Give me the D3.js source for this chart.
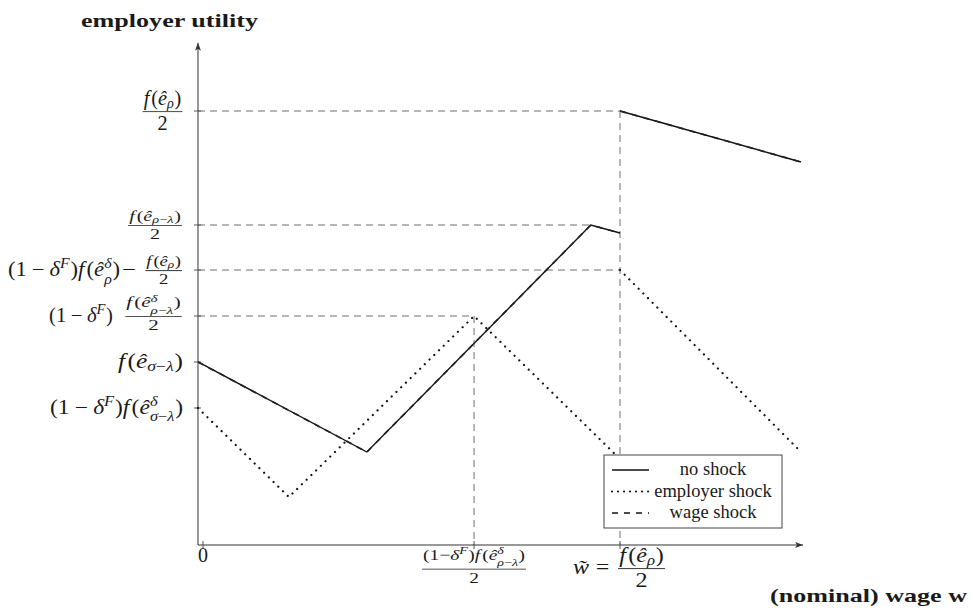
<!DOCTYPE html>
<html>
<head>
<meta charset="utf-8">
<script src="https://cdn.jsdelivr.net/npm/d3@7"></script>
<style>
  html, body { margin: 0; padding: 0; background: #fff; }
  svg { display: block; }
</style>
</head>
<body>
<svg id="chart" width="972" height="610"></svg>
<script>
// ---- data (wage in units of w~, utility in arbitrary units) ----
const wageTicks = [0, 0.65, 1.0];
const utilityLevels = [10, 7.373, 6.336, 5.276, 4.217, 3.157];

const noShockLow  = [[-0.012, 4.217], [0.393, 2.143], [0.930, 7.373], [1.0, 7.189]];
const noShockHigh = [[1.0, 10], [1.434, 8.825]];
const employerLow  = [[-0.012, 3.157], [0.206, 1.106], [0.650, 5.276], [1.0, 1.982]];
const employerHigh = [[1.0, 6.336], [1.427, 2.212]];
const wageLow  = [[-0.012, 4.217], [0.393, 2.143], [0.930, 7.373], [1.0, 7.189]];
const wageHigh = [[1.0, 10], [1.434, 8.825]];

// dashed guides: [wage, utility] corner points
const guidePoints = [[1.0, 10], [0.930, 7.373], [1.0, 6.336], [0.650, 5.276]];

const seriesNames = ["no shock", "employer shock", "wage shock"];
const yTitle = "employer utility";
const xTitle = "(nominal) wage w";

// ---- small typesetting helpers for the math labels ----
const I = t => ({ t, it: true });
const R = t => ({ t, it: false });
const G = k => ({ gap: k });            // horizontal space in em
const S = (sub, sup) => ({ sub, sup });
const FR = (num, den, k) => ({ num, den, k });

const fRho = [I("f"), G(0.1), R("("), I("ê"), S([I("ρ")]), R(")")];
const fRhoLam = [I("f"), G(0.1), R("("), I("ê"), S([I("ρ"), R("−"), I("λ")]), R(")")];
const fRhoDelta = [I("f"), G(0.1), R("("), I("ê"), S([I("ρ")], [I("δ")]), R(")")];
const fRhoLamDelta = [I("f"), G(0.1), R("("), I("ê"), S([I("ρ"), R("−"), I("λ")], [I("δ")]), R(")")];
const fSigLam = [I("f"), G(0.1), R("("), I("ê"), S([I("σ"), R("−"), I("λ")]), R(")")];
const fSigLamDelta = [I("f"), G(0.1), R("("), I("ê"), S([I("σ"), R("−"), I("λ")], [I("δ")]), R(")")];
const oneMinusDelta = [R("(1"), G(0.22), R("−"), G(0.22), I("δ"), S(null, [I("F")]), R(")")];
const oneMinusDeltaTight = [R("(1−"), I("δ"), S(null, [I("F")]), R(")")];

// each tick label is a list of pieces
const yTickLabels = [
  [[FR(fRho, [R("2")], 1)]],
  [[FR(fRhoLam, [R("2")], 0.75)]],
  [[...oneMinusDelta, ...fRhoDelta], [R("−"), G(0.3), FR(fRho, [R("2")], 0.75)]],
  [oneMinusDelta, [FR(fRhoLamDelta, [R("2")], 0.75)]],
  [fSigLam],
  [[...oneMinusDelta, ...fSigLamDelta]]
];
const xTickLabels = [
  [R("0")],
  [FR([...oneMinusDeltaTight, ...fRhoLamDelta], [R("2")], 0.75)],
  [I("w\u0303"), G(0.28), R("="), G(0.28), FR(fRho, [R("2")], 1)]
];

// ---- layout ----
const svg = d3.select("#chart");
const FONT = "'Liberation Serif', 'Times New Roman', serif";
const x = d3.scaleLinear().domain([0, 1]).range([203, 620]);
const y = d3.scaleLinear().domain([0, 10]).range([545, 111]);
const xAxisStart = -0.012, xAxisEnd = 1.439, yAxisEnd = 11.57;
const INK = "#1a1a1a";
const labelSize = 20;
// horizontal extent [left, right] of every piece of the y labels; glyphs are widened to fit
const yLabelBoxes = [
  [[141, 184]],
  [[126, 184]],
  [[8, 120], [122, 184]],
  [[49, 113], [123, 184]],
  [[118, 183]],
  [[50, 183]]
];
const xLabelWidths = [null, 108, 94];
const ASC = 0.891, DESC = 0.216;   // Liberation Serif ascent / descent per em

function shift(spans, dx, dy) {
  spans.forEach(sp => sp.attr("x", +sp.attr("x") + dx).attr("y", +sp.attr("y") + dy));
}
const spanBottom = sp => +sp.attr("y") + DESC * +sp.attr("font-size");
const spanTop = sp => +sp.attr("y") - ASC * +sp.attr("font-size");

// lays out nodes as tspans of one <text>; fraction bars go into `bars`
function typeset(txt, bars, nodes, x0, y0, size, lvl) {
  let cx = x0;
  const spans = [];
  nodes.forEach(n => {
    if (n.gap !== undefined) {
      cx += n.gap * size;
    } else if (n.t !== undefined) {
      const sp = txt.append("tspan").attr("x", cx).attr("y", y0)
        .attr("font-size", size).attr("font-style", n.it ? "italic" : "normal").text(n.t);
      cx += sp.node().getComputedTextLength();
      spans.push(sp);
    } else if (n.num) {
      const fs = size * n.k;
      const sl = n.k < 1 ? lvl + 1 : lvl;
      const N = typeset(txt, bars, n.num, 0, 0, fs, sl);
      const D = typeset(txt, bars, n.den, 0, 0, fs, sl);
      const pad = size * 0.08;
      const w = Math.max(N.w, D.w) + fs * 0.1;
      const bar = y0 - size * 0.27;
      const numBottom = d3.max(N.spans, spanBottom);
      const denTop = d3.min(D.spans, spanTop);
      shift(N.spans, cx + pad + (w - N.w) / 2, bar - Math.max(fs * 0.3, numBottom + 0.3));
      shift(D.spans, cx + pad + (w - D.w) / 2, bar + Math.max(fs * 0.76, -denTop + 0.3));
      spans.push(...N.spans, ...D.spans);
      bars.append("line").attr("x1", cx + pad).attr("x2", cx + pad + w)
        .attr("y1", bar).attr("y2", bar).attr("stroke", INK).attr("stroke-width", 0.8);
      cx += w + 2 * pad;
    } else {
      const ss = size * (lvl === 0 ? 0.7 : 0.72);
      const both = n.sup && n.sub;
      const supShift = size * (lvl === 0 ? 0.42 : 0.36);
      const subShift = both ? (ASC + DESC) * ss + 0.4 - supShift : size * 0.15;
      let w = 0;
      if (n.sup) {
        const P = typeset(txt, bars, n.sup, cx, y0 - supShift, ss, lvl + 1);
        spans.push(...P.spans); w = Math.max(w, P.w);
      }
      if (n.sub) {
        const B = typeset(txt, bars, n.sub, cx, y0 + subShift, ss, lvl + 1);
        spans.push(...B.spans); w = Math.max(w, B.w);
      }
      cx += w + size * 0.03;
    }
  });
  return { w: cx - x0, spans };
}

// draws one piece, stretched horizontally to `width` when given
function label(nodes, px, py, size, anchor, width) {
  const g = svg.append("g").attr("font-family", FONT).attr("fill", INK);
  const txt = g.append("text");
  const bars = g.append("g");
  const natural = typeset(txt, bars, nodes, 0, 0, size, 0).w;
  const sx = width ? width / natural : 1;
  const w = natural * sx;
  const dx = anchor === "end" ? -w : anchor === "middle" ? -w / 2 : 0;
  g.attr("transform", `translate(${px + dx},${py}) scale(${sx},1)`);
  return g;
}

// dashed guide lines
const guides = svg.append("g").attr("stroke", "#6e6e6e").attr("stroke-width", 1)
  .attr("stroke-dasharray", "7,5").attr("fill", "none");
guidePoints.forEach(([w, u]) => {
  guides.append("line").attr("x1", x(xAxisStart)).attr("x2", x(w))
    .attr("y1", y(u)).attr("y2", y(u));
});
guides.append("line").attr("x1", x(0.65)).attr("x2", x(0.65)).attr("y1", y(5.276)).attr("y2", y(0));
guides.append("line").attr("x1", x(1.0)).attr("x2", x(1.0)).attr("y1", y(10)).attr("y2", y(0));

// axes
const axisG = svg.append("g").attr("stroke", "#333").attr("stroke-width", 1).attr("fill", "none");
axisG.append("line").attr("x1", x(xAxisStart)).attr("x2", x(xAxisStart))
  .attr("y1", y(0)).attr("y2", y(yAxisEnd));
axisG.append("line").attr("x1", x(xAxisStart)).attr("x2", x(xAxisEnd))
  .attr("y1", y(0)).attr("y2", y(0));
// arrow heads
const ax0 = x(xAxisStart), ay = y(yAxisEnd), bx = x(xAxisEnd), by = y(0);
svg.append("path").attr("d", `M${ax0},${ay} L${ax0 - 3},${ay + 8} L${ax0},${ay + 6} L${ax0 + 3},${ay + 8} Z`).attr("fill", "#333");
svg.append("path").attr("d", `M${bx},${by} L${bx - 8},${by - 3} L${bx - 6},${by} L${bx - 8},${by + 3} Z`).attr("fill", "#333");

// ticks
const tickG = svg.append("g").attr("stroke", "#555").attr("stroke-width", 1);
utilityLevels.forEach(u => {
  tickG.append("line").attr("x1", ax0 - 4).attr("x2", ax0 + 3).attr("y1", y(u)).attr("y2", y(u));
});
wageTicks.forEach(w => {
  tickG.append("line").attr("x1", x(w)).attr("x2", x(w)).attr("y1", y(0) - 4).attr("y2", y(0) + 4);
});

// tick labels
utilityLevels.forEach((u, i) => {
  yTickLabels[i].forEach((piece, j) => {
    const [l, r] = yLabelBoxes[i][j];
    label(piece, r, y(u) + labelSize * 0.3, labelSize, "end", r - l);
  });
});
label(xTickLabels[0], x(wageTicks[0]), 562, labelSize, "middle", xLabelWidths[0]);
label(xTickLabels[1], x(wageTicks[1]), 574.5, labelSize, "middle", xLabelWidths[1]);
label(xTickLabels[2], x(wageTicks[2]), 574, labelSize, "middle", xLabelWidths[2]);

// curves
const line = d3.line().x(d => x(d[0])).y(d => y(d[1]));
const curves = svg.append("g").attr("fill", "none");
[noShockLow, noShockHigh].forEach(s => {
  curves.append("path").attr("d", line(s)).attr("stroke", "#111").attr("stroke-width", 1.4);
});
[employerLow, employerHigh].forEach(s => {
  curves.append("path").attr("d", line(s)).attr("stroke", "#111").attr("stroke-width", 2.2)
    .attr("stroke-linecap", "round").attr("stroke-dasharray", "0.01,6.6");
});
[wageLow, wageHigh].forEach(s => {
  curves.append("path").attr("d", line(s)).attr("stroke", "#222").attr("stroke-width", 1.7)
    .attr("stroke-dasharray", "6,6");
});

// legend
const leg = svg.append("g").attr("transform", "translate(604,455)");
leg.append("rect").attr("width", 178).attr("height", 73)
  .attr("fill", "#fff").attr("stroke", "#444").attr("stroke-width", 1);
const legendStyles = [
  { dash: null, w: 1.4, cap: "butt" },
  { dash: "0.01,6", w: 2.2, cap: "round" },
  { dash: "6,6", w: 1.7, cap: "butt" }
];
seriesNames.forEach((name, i) => {
  const ry = 15 + i * 21.5;
  const st = legendStyles[i];
  const l = leg.append("line").attr("x1", 8).attr("x2", 45).attr("y1", ry).attr("y2", ry)
    .attr("stroke", "#111").attr("stroke-width", st.w).attr("stroke-linecap", st.cap);
  if (st.dash) l.attr("stroke-dasharray", st.dash);
  leg.append("text").attr("x", 109).attr("y", ry + 5).attr("text-anchor", "middle")
    .attr("font-family", FONT).attr("font-size", 18.5).attr("fill", INK).text(name);
});

// axis titles
svg.append("text").attr("x", 81).attr("y", 27).attr("font-family", FONT)
  .attr("font-weight", "bold").attr("font-size", 19).attr("fill", INK)
  .attr("textLength", 177).attr("lengthAdjust", "spacingAndGlyphs").text(yTitle);
svg.append("text").attr("x", 770).attr("y", 602).attr("font-family", FONT)
  .attr("font-weight", "bold").attr("font-size", 19).attr("fill", INK)
  .attr("textLength", 197).attr("lengthAdjust", "spacingAndGlyphs").text(xTitle);
</script>
</body>
</html>
